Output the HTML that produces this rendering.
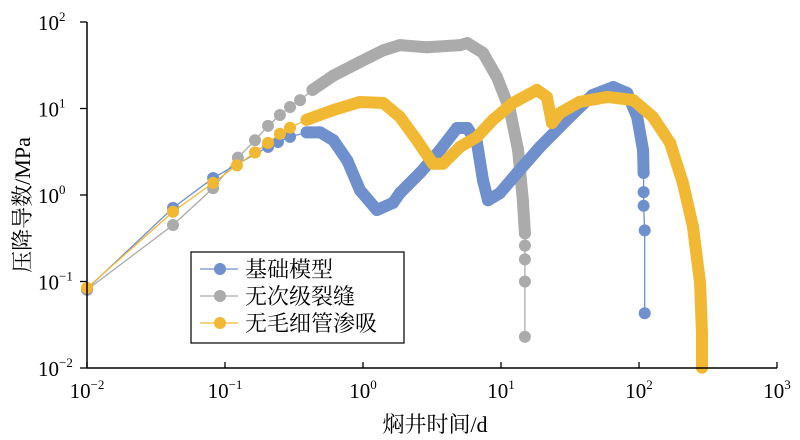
<!DOCTYPE html>
<html><head><meta charset="utf-8">
<style>
html,body{margin:0;padding:0;background:#fff;}
svg{display:block;font-family:"Liberation Serif","Noto Serif CJK SC",serif;}
</style></head>
<body>
<svg id="chart" width="800" height="440" viewBox="0 0 800 440" xmlns="http://www.w3.org/2000/svg">
  <rect x="0" y="0" width="800" height="440" fill="#fff"/>
  <g id="series-layer"></g>
  <g id="axes">
    <line x1="87" y1="22" x2="87" y2="368" stroke="#000" stroke-width="1.5"/>
    <line x1="87" y1="368" x2="777" y2="368" stroke="#000" stroke-width="1.5"/>
  </g>
  <g id="ticks"></g>
  <text transform="translate(30,205) rotate(-90)" text-anchor="middle" font-size="22" fill="#000">压降导数/MPa</text>
  <text x="435" y="432" text-anchor="middle" font-size="22" fill="#000">焖井时间/d</text>
  <g id="legend">
    <rect x="191" y="252" width="213" height="91" fill="#fff" stroke="#000" stroke-width="1.2"/>
    <line x1="200" y1="269" x2="238" y2="269" stroke="#6f8fcd" stroke-width="1.3"/>
    <circle cx="220" cy="269" r="6" fill="#6f8fcd"/>
    <text x="245" y="277" font-size="22">基础模型</text>
    <line x1="200" y1="296" x2="238" y2="296" stroke="#ababab" stroke-width="1.3"/>
    <circle cx="220" cy="296" r="6" fill="#ababab"/>
    <text x="245" y="304" font-size="22">无次级裂缝</text>
    <line x1="200" y1="323" x2="238" y2="323" stroke="#f1b933" stroke-width="1.3"/>
    <circle cx="220" cy="323" r="6" fill="#f1b933"/>
    <text x="245" y="331" font-size="22">无毛细管渗吸</text>
  </g>
</svg>
<script>
// ---- data ----
const xTickExps = [-2, -1, 0, 1, 2, 3];
const yTickExps = [-2, -1, 0, 1, 2];
const baseT = [0.01,0.042,0.082,0.205,0.242,0.296,0.39,0.49,0.61,0.77,0.95,1.26,1.65,1.85,2.59,3.61,4.8,5.7,6.7,7.4,8.05,9.8,13.1,19.2,30,46,65,82,97,107,108,108,108,110,110];
const baseY = [0.082,0.71,1.57,3.6,4.1,4.7,5.3,5.3,4.3,2.5,1.14,0.67,0.81,1.05,1.8,3.3,5.95,5.95,4.0,1.49,0.87,1.05,1.8,3.6,7.4,14.3,17.7,15.1,8.0,3.3,1.8,1.08,0.75,0.39,0.043];
const grayT = [0.01,0.042,0.082,0.124,0.165,0.205,0.25,0.296,0.35,0.43,0.61,0.95,1.40,1.85,2.91,5.05,5.7,7.4,9.35,11.6,13.3,14.4,14.9,14.9,14.9,14.9,14.9];
const grayY = [0.080,0.45,1.2,2.7,4.3,6.3,8.4,10.4,12.5,16.4,24,34.5,47,54,51,54,57,44,23,9.6,3.3,0.87,0.36,0.26,0.18,0.10,0.023];
const imbT = [0.01,0.042,0.082,0.122,0.165,0.205,0.25,0.296,0.39,0.61,0.95,1.40,1.85,2.46,3.21,3.8,5.05,6.7,8.75,12.2,18.2,21.5,23.4,26.8,37,59,91,126,168,208,246,277,286,286];
const imbY = [0.084,0.64,1.38,2.2,3.1,4.0,5.1,6.0,7.4,9.6,11.9,11.6,8.0,4.3,2.3,2.3,3.6,4.7,7.4,11.6,16.4,13.6,6.8,8.9,11.9,13.6,12.5,8.0,4.0,1.38,0.43,0.096,0.025,0.0101];

// ---- axes ----
const X0 = 87, XDEC = 138, Y0 = 368, YDEC = 86.5;
function xScale(t){ return X0 + (Math.log10(t) + 2) * XDEC; }
function yScale(v){ return Y0 - (Math.log10(v) + 2) * YDEC; }
const NS = "http://www.w3.org/2000/svg";
function mk(tag, attrs){ const e = document.createElementNS(NS, tag); for (const k in attrs) e.setAttribute(k, attrs[k]); return e; }

const ticks = document.getElementById('ticks');
xTickExps.forEach(function(e){
  const x = X0 + (e + 2) * XDEC;
  const tk = mk('line', {x1:x, y1:Y0, x2:x, y2:Y0-6, stroke:'#000', 'stroke-width':1.3});
  
  
  ticks.appendChild(tk);
  const tx = mk('text', {x:x, y:Y0+30, 'text-anchor':'middle', 'font-size':21});
  
  
  tx.innerHTML = '10<tspan font-size="13" dy="-9">' + (e < 0 ? '\u2212' + (-e) : e) + '</tspan>';
  ticks.appendChild(tx);
});
yTickExps.forEach(function(e){
  const y = Y0 - (e + 2) * YDEC;
  const tk = mk('line', {x1:X0, y1:y, x2:X0-7, y2:y, stroke:'#000', 'stroke-width':1.3});
  
  
  ticks.appendChild(tk);
  const tx = mk('text', {x:e < 0 ? 38 : 38, y:y+8, 'text-anchor':'start', 'font-size':21});
  
  
  tx.innerHTML = '10<tspan font-size="13" dy="-9">' + (e < 0 ? '\u2212' + (-e) : e) + '</tspan>';
  ticks.appendChild(tx);
});

// ---- series ----
const layer = document.getElementById('series-layer');
function drawSeries(T, Y, color, name, denseStart, denseEnd){
  const g = mk('g', {});
  
  
  const pts = T.map(function(t, i){ return [xScale(t), yScale(Y[i])]; });
  const thin = mk('polyline', {points: pts.map(function(p){return p.join(',');}).join(' '), fill:'none', stroke:color, 'stroke-width':1.3});
  
  
  g.appendChild(thin);
  const dense = pts.slice(denseStart, denseEnd + 1);
  const thick = mk('polyline', {points: dense.map(function(p){return p.join(',');}).join(' '), fill:'none', stroke:color, 'stroke-width':12, 'stroke-linejoin':'round', 'stroke-linecap':'round'});
  
  
  g.appendChild(thick);
  pts.forEach(function(p){
    const c = mk('circle', {cx:p[0], cy:p[1], r:6, fill:color});
    
    
    g.appendChild(c);
  });
  layer.appendChild(g);
}
drawSeries(grayT, grayY, '#ababab', 'no-secondary-fracture', 9, 22);
drawSeries(baseT, baseY, '#6f8fcd', 'base-model', 6, 30);
drawSeries(imbT, imbY, '#f1b933', 'no-imbibition', 8, 33);
</script>
</body></html>
